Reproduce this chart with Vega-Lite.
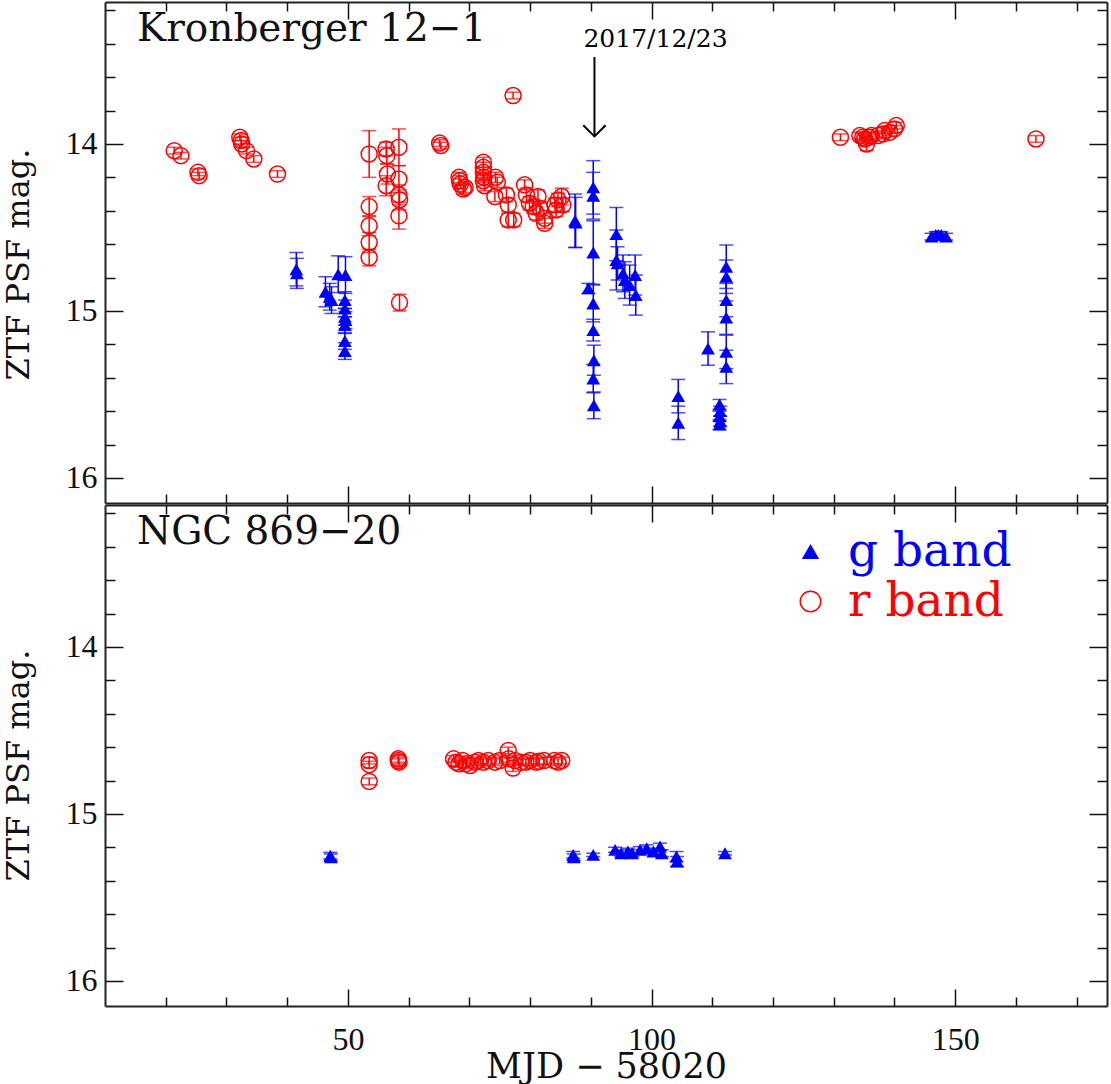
{
  "$schema": "https://vega.github.io/schema/vega-lite/v6.json",
  "padding": {"left": 2, "top": 1, "right": 2, "bottom": 2},
  "background": "white",
  "config": {
    "view": {"stroke": null},
    "axis": {"domain": true, "domainColor": "#222222", "domainWidth": 2, "grid": false, "tickColor": "#111111", "tickWidth": 1.5, "labelFont": "Liberation Serif", "labelFontSize": 32, "labelColor": "#111111", "titleFont": "DejaVu Serif", "titleFontSize": 32, "titleFontWeight": "normal", "titleColor": "#111111", "labelOverlap": false, "labelBound": false, "labelFlush": false},
    "title": {"font": "DejaVu Serif", "fontSize": 39, "fontWeight": "normal", "color": "#111111", "anchor": "start", "frame": "group", "baseline": "alphabetic", "offset": -48, "dx": 32}
  },
  "datasets": {
    "k_r": [
      {"mjd": 21.4, "mag": 14.04, "err": 0.02}, {"mjd": 22.5, "mag": 14.07, "err": 0.02}, {"mjd": 25.3, "mag": 14.17, "err": 0.02}, {"mjd": 25.5, "mag": 14.19, "err": 0.02},
      {"mjd": 32.2, "mag": 13.96, "err": 0.02}, {"mjd": 32.4, "mag": 13.98, "err": 0.02}, {"mjd": 32.5, "mag": 14.0, "err": 0.02}, {"mjd": 33.3, "mag": 14.04, "err": 0.02}, {"mjd": 34.5, "mag": 14.09, "err": 0.02}, {"mjd": 38.4, "mag": 14.18, "err": 0.02},
      {"mjd": 53.5, "mag": 14.06, "err": 0.14}, {"mjd": 53.5, "mag": 14.375, "err": 0.06}, {"mjd": 53.5, "mag": 14.49, "err": 0.06}, {"mjd": 53.5, "mag": 14.59, "err": 0.06}, {"mjd": 53.5, "mag": 14.68, "err": 0.05},
      {"mjd": 56.3, "mag": 14.03, "err": 0.04}, {"mjd": 56.4, "mag": 14.07, "err": 0.05}, {"mjd": 56.5, "mag": 14.18, "err": 0.06}, {"mjd": 56.3, "mag": 14.25, "err": 0.06},
      {"mjd": 58.4, "mag": 14.02, "err": 0.11}, {"mjd": 58.4, "mag": 14.21, "err": 0.08}, {"mjd": 58.4, "mag": 14.305, "err": 0.06}, {"mjd": 58.5, "mag": 14.335, "err": 0.06}, {"mjd": 58.4, "mag": 14.43, "err": 0.08}, {"mjd": 58.5, "mag": 14.95, "err": 0.05},
      {"mjd": 65.1, "mag": 13.995, "err": 0.02}, {"mjd": 65.3, "mag": 14.01, "err": 0.02}, {"mjd": 77.2, "mag": 13.71, "err": 0.02},
      {"mjd": 68.3, "mag": 14.2, "err": 0.03}, {"mjd": 68.4, "mag": 14.22, "err": 0.03}, {"mjd": 68.5, "mag": 14.24, "err": 0.03}, {"mjd": 69.0, "mag": 14.27, "err": 0.03}, {"mjd": 69.3, "mag": 14.26, "err": 0.03},
      {"mjd": 72.3, "mag": 14.11, "err": 0.03}, {"mjd": 72.3, "mag": 14.14, "err": 0.03}, {"mjd": 72.3, "mag": 14.17, "err": 0.03}, {"mjd": 72.4, "mag": 14.2, "err": 0.03}, {"mjd": 72.3, "mag": 14.22, "err": 0.03}, {"mjd": 72.5, "mag": 14.25, "err": 0.03},
      {"mjd": 74.3, "mag": 14.2, "err": 0.03}, {"mjd": 74.6, "mag": 14.23, "err": 0.03}, {"mjd": 74.2, "mag": 14.315, "err": 0.03},
      {"mjd": 76.1, "mag": 14.305, "err": 0.04}, {"mjd": 76.4, "mag": 14.365, "err": 0.04}, {"mjd": 76.4, "mag": 14.455, "err": 0.04}, {"mjd": 77.3, "mag": 14.455, "err": 0.04},
      {"mjd": 79.1, "mag": 14.245, "err": 0.03}, {"mjd": 79.4, "mag": 14.305, "err": 0.04}, {"mjd": 79.9, "mag": 14.355, "err": 0.04}, {"mjd": 80.5, "mag": 14.375, "err": 0.04}, {"mjd": 81.0, "mag": 14.415, "err": 0.04},
      {"mjd": 81.3, "mag": 14.315, "err": 0.04}, {"mjd": 81.6, "mag": 14.385, "err": 0.04}, {"mjd": 82.4, "mag": 14.445, "err": 0.03}, {"mjd": 82.4, "mag": 14.475, "err": 0.03},
      {"mjd": 84.1, "mag": 14.365, "err": 0.04}, {"mjd": 84.6, "mag": 14.335, "err": 0.04}, {"mjd": 85.2, "mag": 14.315, "err": 0.05}, {"mjd": 85.4, "mag": 14.365, "err": 0.04}, {"mjd": 84.3, "mag": 14.395, "err": 0.04},
      {"mjd": 131.1, "mag": 13.96, "err": 0.02}, {"mjd": 134.3, "mag": 13.95, "err": 0.02}, {"mjd": 134.8, "mag": 13.96, "err": 0.02}, {"mjd": 135.1, "mag": 13.97, "err": 0.02}, {"mjd": 135.4, "mag": 14.0, "err": 0.04}, {"mjd": 135.8, "mag": 13.96, "err": 0.02}, {"mjd": 136.2, "mag": 13.95, "err": 0.02}, {"mjd": 137.3, "mag": 13.95, "err": 0.02}, {"mjd": 138.1, "mag": 13.94, "err": 0.02}, {"mjd": 138.4, "mag": 13.92, "err": 0.02}, {"mjd": 139.2, "mag": 13.93, "err": 0.02}, {"mjd": 140.0, "mag": 13.91, "err": 0.02}, {"mjd": 140.3, "mag": 13.89, "err": 0.02},
      {"mjd": 163.3, "mag": 13.97, "err": 0.02}
    ],
    "k_g": [
      {"mjd": 41.5, "mag": 14.75, "err": 0.1}, {"mjd": 41.6, "mag": 14.775, "err": 0.09},
      {"mjd": 46.3, "mag": 14.885, "err": 0.09}, {"mjd": 47.0, "mag": 14.915, "err": 0.08}, {"mjd": 47.3, "mag": 14.935, "err": 0.08},
      {"mjd": 48.4, "mag": 14.78, "err": 0.11}, {"mjd": 49.6, "mag": 14.785, "err": 0.11},
      {"mjd": 49.5, "mag": 14.935, "err": 0.05}, {"mjd": 49.5, "mag": 14.985, "err": 0.05}, {"mjd": 49.5, "mag": 15.035, "err": 0.05}, {"mjd": 49.6, "mag": 15.055, "err": 0.05}, {"mjd": 49.5, "mag": 15.085, "err": 0.05}, {"mjd": 49.5, "mag": 15.18, "err": 0.05}, {"mjd": 49.5, "mag": 15.24, "err": 0.05},
      {"mjd": 87.4, "mag": 14.46, "err": 0.16}, {"mjd": 87.5, "mag": 14.47, "err": 0.15},
      {"mjd": 90.4, "mag": 14.26, "err": 0.16}, {"mjd": 90.4, "mag": 14.31, "err": 0.14}, {"mjd": 90.4, "mag": 14.65, "err": 0.19}, {"mjd": 89.6, "mag": 14.865, "err": 0.03}, {"mjd": 90.4, "mag": 14.955, "err": 0.11}, {"mjd": 90.4, "mag": 15.115, "err": 0.065}, {"mjd": 90.5, "mag": 15.295, "err": 0.09}, {"mjd": 90.4, "mag": 15.405, "err": 0.085}, {"mjd": 90.5, "mag": 15.565, "err": 0.08},
      {"mjd": 94.2, "mag": 14.54, "err": 0.16}, {"mjd": 94.2, "mag": 14.695, "err": 0.18}, {"mjd": 94.4, "mag": 14.715, "err": 0.1},
      {"mjd": 95.3, "mag": 14.775, "err": 0.11}, {"mjd": 95.6, "mag": 14.815, "err": 0.11}, {"mjd": 96.4, "mag": 14.845, "err": 0.12}, {"mjd": 97.3, "mag": 14.785, "err": 0.12}, {"mjd": 97.4, "mag": 14.905, "err": 0.12},
      {"mjd": 104.4, "mag": 15.51, "err": 0.1}, {"mjd": 104.4, "mag": 15.67, "err": 0.1},
      {"mjd": 109.3, "mag": 15.225, "err": 0.1},
      {"mjd": 112.3, "mag": 14.735, "err": 0.13}, {"mjd": 112.3, "mag": 14.795, "err": 0.1}, {"mjd": 112.3, "mag": 14.935, "err": 0.1}, {"mjd": 112.3, "mag": 15.04, "err": 0.1}, {"mjd": 112.3, "mag": 15.245, "err": 0.1}, {"mjd": 112.3, "mag": 15.335, "err": 0.1},
      {"mjd": 111.2, "mag": 15.56, "err": 0.03}, {"mjd": 111.3, "mag": 15.6, "err": 0.03}, {"mjd": 111.2, "mag": 15.63, "err": 0.03}, {"mjd": 111.3, "mag": 15.66, "err": 0.03}, {"mjd": 111.2, "mag": 15.68, "err": 0.03},
      {"mjd": 146.1, "mag": 14.555, "err": 0.02}, {"mjd": 146.8, "mag": 14.545, "err": 0.02}, {"mjd": 147.2, "mag": 14.545, "err": 0.02}, {"mjd": 147.7, "mag": 14.545, "err": 0.02}, {"mjd": 148.5, "mag": 14.555, "err": 0.02}
    ],
    "n_r": [
      {"mjd": 53.5, "mag": 14.68, "err": 0.02}, {"mjd": 53.5, "mag": 14.705, "err": 0.02}, {"mjd": 53.5, "mag": 14.805, "err": 0.02},
      {"mjd": 58.3, "mag": 14.67, "err": 0.02}, {"mjd": 58.3, "mag": 14.68, "err": 0.02}, {"mjd": 58.4, "mag": 14.69, "err": 0.02},
      {"mjd": 67.4, "mag": 14.67, "err": 0.02}, {"mjd": 67.8, "mag": 14.69, "err": 0.02}, {"mjd": 68.3, "mag": 14.7, "err": 0.02}, {"mjd": 68.9, "mag": 14.68, "err": 0.02}, {"mjd": 69.4, "mag": 14.7, "err": 0.02}, {"mjd": 70.1, "mag": 14.71, "err": 0.02}, {"mjd": 70.9, "mag": 14.69, "err": 0.02}, {"mjd": 71.5, "mag": 14.68, "err": 0.02}, {"mjd": 72.3, "mag": 14.69, "err": 0.02}, {"mjd": 73.1, "mag": 14.68, "err": 0.02}, {"mjd": 74.2, "mag": 14.69, "err": 0.02}, {"mjd": 75.0, "mag": 14.68, "err": 0.02}, {"mjd": 76.4, "mag": 14.62, "err": 0.02}, {"mjd": 76.5, "mag": 14.67, "err": 0.02}, {"mjd": 77.2, "mag": 14.725, "err": 0.02}, {"mjd": 77.5, "mag": 14.68, "err": 0.02}, {"mjd": 78.5, "mag": 14.69, "err": 0.02}, {"mjd": 79.3, "mag": 14.69, "err": 0.02}, {"mjd": 80.0, "mag": 14.68, "err": 0.02}, {"mjd": 81.0, "mag": 14.69, "err": 0.02}, {"mjd": 81.5, "mag": 14.685, "err": 0.02}, {"mjd": 82.3, "mag": 14.68, "err": 0.02}, {"mjd": 84.0, "mag": 14.68, "err": 0.02}, {"mjd": 84.6, "mag": 14.69, "err": 0.02}, {"mjd": 85.2, "mag": 14.68, "err": 0.02}
    ],
    "n_g": [
      {"mjd": 47.1, "mag": 15.25, "err": 0.02}, {"mjd": 47.2, "mag": 15.26, "err": 0.02}, {"mjd": 87.1, "mag": 15.245, "err": 0.02}, {"mjd": 87.2, "mag": 15.26, "err": 0.02}, {"mjd": 90.4, "mag": 15.245, "err": 0.01}, {"mjd": 94.0, "mag": 15.215, "err": 0.015}, {"mjd": 95.0, "mag": 15.235, "err": 0.02}, {"mjd": 96.1, "mag": 15.225, "err": 0.02}, {"mjd": 96.8, "mag": 15.235, "err": 0.02}, {"mjd": 98.1, "mag": 15.215, "err": 0.02}, {"mjd": 99.2, "mag": 15.205, "err": 0.02}, {"mjd": 100.3, "mag": 15.225, "err": 0.02}, {"mjd": 101.4, "mag": 15.195, "err": 0.02}, {"mjd": 101.7, "mag": 15.235, "err": 0.02}, {"mjd": 104.1, "mag": 15.255, "err": 0.03}, {"mjd": 104.2, "mag": 15.285, "err": 0.03}, {"mjd": 112.1, "mag": 15.235, "err": 0.01}
    ],
    "note": [{"mjd": 90.6, "top": 13.48, "tip": 13.955, "date": "2017/12/23"}]
  },
  "spacing": 0,
  "resolve": {"scale": {"fill": "independent", "stroke": "independent"}, "legend": {"fill": "independent", "stroke": "independent"}},
  "vconcat": [
    {
      "width": 1002, "height": 501,
      "title": {"text": "Kronberger 12−1"},
      "resolve": {"axis": {"x": "independent", "y": "independent"}},
      "encoding": {
        "x": {"field": "mjd", "type": "quantitative", "scale": {"domain": [10, 175], "nice": false, "zero": false}, "axis": null},
        "y": {"field": "mag", "type": "quantitative", "scale": {"domain": [13.15, 16.15], "reverse": true, "nice": false, "zero": false}, "axis": null}
      },
      "layer": [
        {
          "data": {"name": "note"},
          "mark": {"type": "point", "opacity": 0},
          "encoding": {
            "x": {"field": "mjd", "type": "quantitative", "scale": {"domain": [10, 175], "nice": false, "zero": false},
                  "axis": {"orient": "bottom", "values": [20,30,40,50,60,70,80,90,100,110,120,130,140,150,160,170], "tickSize": {"condition": {"test": "datum.value % 50 == 0", "value": -17}, "value": -9}, "labels": false, "title": null, "minExtent": 0, "maxExtent": 0}},
            "y": {"field": "tip", "type": "quantitative", "scale": {"domain": [13.15, 16.15], "reverse": true, "nice": false, "zero": false},
                  "axis": {"orient": "left", "values": [13.2,13.4,13.6,13.8,14,14.2,14.4,14.6,14.8,15,15.2,15.4,15.6,15.8,16], "tickSize": {"condition": {"test": "abs(datum.value - round(datum.value)) < 0.01", "value": -18}, "value": -10}, "labelFontSize": {"condition": {"test": "abs(datum.value - round(datum.value)) < 0.01", "value": 32}, "value": 0}, "labelExpr": "abs(datum.value - round(datum.value)) < 0.01 ? format(datum.value, 'd') : ''", "labelPadding": 26, "title": "ZTF PSF mag.", "titlePadding": 10, "titleY": 262, "minExtent": 60, "maxExtent": 60}}
          }
        },
        {
          "data": {"name": "note"},
          "mark": {"type": "point", "opacity": 0},
          "encoding": {
            "x": {"field": "mjd", "type": "quantitative", "scale": {"domain": [10, 175], "nice": false, "zero": false},
                  "axis": {"orient": "top", "values": [20,30,40,50,60,70,80,90,100,110,120,130,140,150,160,170], "tickSize": {"condition": {"test": "datum.value % 50 == 0", "value": -17}, "value": -9}, "labels": false, "title": null, "minExtent": 0, "maxExtent": 0}},
            "y": {"field": "tip", "type": "quantitative", "scale": {"domain": [13.15, 16.15], "reverse": true, "nice": false, "zero": false},
                  "axis": {"orient": "right", "values": [13.2,13.4,13.6,13.8,14,14.2,14.4,14.6,14.8,15,15.2,15.4,15.6,15.8,16], "tickSize": {"condition": {"test": "abs(datum.value - round(datum.value)) < 0.01", "value": -18}, "value": -10}, "labels": false, "title": null, "minExtent": 0, "maxExtent": 0}}
          }
        },
        {"data": {"name": "k_r"}, "mark": {"type": "errorbar", "ticks": true, "size": 14, "thickness": 1.5, "color": "#ff0000"}, "encoding": {"yError": {"field": "err"}}},
        {"data": {"name": "k_r"}, "mark": {"type": "point", "shape": "circle", "filled": false, "size": 256, "strokeWidth": 1.5, "opacity": 1},
         "encoding": {"stroke": {"datum": "r band", "type": "nominal", "scale": {"range": ["#ff0000"]}, "legend": null}}},
        {"data": {"name": "k_g"}, "mark": {"type": "errorbar", "ticks": true, "size": 14, "thickness": 1.5, "color": "#0000ff"}, "encoding": {"yError": {"field": "err"}}},
        {"data": {"name": "k_g"}, "mark": {"type": "point", "shape": "triangle-up", "filled": true, "size": 190, "opacity": 1},
         "encoding": {"fill": {"datum": "g band", "type": "nominal", "scale": {"range": ["#0000ff"]}, "legend": null}}},
        {"data": {"name": "note"}, "mark": {"type": "rule", "color": "#000000", "strokeWidth": 2}, "encoding": {"y": {"field": "top", "type": "quantitative", "axis": null}, "y2": {"field": "tip"}}},
        {"data": {"name": "note"}, "mark": {"type": "point", "shape": "M-1,-1L0,0L1,-1", "filled": false, "size": 500, "strokeWidth": 2, "color": "#000000", "opacity": 1}, "encoding": {"y": {"field": "tip", "type": "quantitative", "axis": null}}},
        {"data": {"name": "note"}, "mark": {"type": "text", "align": "left", "baseline": "alphabetic", "dx": -11, "dy": -10, "font": "DejaVu Serif", "fontSize": 25, "color": "#000000"}, "encoding": {"y": {"field": "top", "type": "quantitative", "axis": null}, "text": {"field": "date"}}}
      ]
    },
    {
      "width": 1002, "height": 501,
      "title": {"text": "NGC 869−20"},
      "resolve": {"axis": {"x": "independent", "y": "independent"}},
      "encoding": {
        "x": {"field": "mjd", "type": "quantitative", "scale": {"domain": [10, 175], "nice": false, "zero": false}, "axis": null},
        "y": {"field": "mag", "type": "quantitative", "scale": {"domain": [13.15, 16.15], "reverse": true, "nice": false, "zero": false}, "axis": null}
      },
      "layer": [
        {
          "data": {"name": "note"},
          "mark": {"type": "point", "opacity": 0},
          "encoding": {
            "x": {"field": "mjd", "type": "quantitative", "scale": {"domain": [10, 175], "nice": false, "zero": false},
                  "axis": {"orient": "bottom", "values": [20,30,40,50,60,70,80,90,100,110,120,130,140,150,160,170], "tickSize": {"condition": {"test": "datum.value % 50 == 0", "value": -17}, "value": -9}, "labelFontSize": {"condition": {"test": "datum.value % 50 == 0", "value": 32}, "value": 0}, "labelExpr": "datum.value % 50 == 0 ? datum.label : ''", "labelPadding": 35, "title": "MJD − 58020", "titleFontSize": 35, "titlePadding": -6}},
            "y": {"field": "tip", "type": "quantitative", "scale": {"domain": [13.15, 16.15], "reverse": true, "nice": false, "zero": false},
                  "axis": {"orient": "left", "values": [13.2,13.4,13.6,13.8,14,14.2,14.4,14.6,14.8,15,15.2,15.4,15.6,15.8,16], "tickSize": {"condition": {"test": "abs(datum.value - round(datum.value)) < 0.01", "value": -18}, "value": -10}, "labelFontSize": {"condition": {"test": "abs(datum.value - round(datum.value)) < 0.01", "value": 32}, "value": 0}, "labelExpr": "abs(datum.value - round(datum.value)) < 0.01 ? format(datum.value, 'd') : ''", "labelPadding": 26, "title": "ZTF PSF mag.", "titlePadding": 10, "titleY": 260, "minExtent": 60, "maxExtent": 60}}
          }
        },
        {
          "data": {"name": "note"},
          "mark": {"type": "point", "opacity": 0},
          "encoding": {
            "x": {"field": "mjd", "type": "quantitative", "scale": {"domain": [10, 175], "nice": false, "zero": false},
                  "axis": {"orient": "top", "values": [20,30,40,50,60,70,80,90,100,110,120,130,140,150,160,170], "tickSize": {"condition": {"test": "datum.value % 50 == 0", "value": -17}, "value": -9}, "labels": false, "title": null, "minExtent": 0, "maxExtent": 0}},
            "y": {"field": "tip", "type": "quantitative", "scale": {"domain": [13.15, 16.15], "reverse": true, "nice": false, "zero": false},
                  "axis": {"orient": "right", "values": [13.2,13.4,13.6,13.8,14,14.2,14.4,14.6,14.8,15,15.2,15.4,15.6,15.8,16], "tickSize": {"condition": {"test": "abs(datum.value - round(datum.value)) < 0.01", "value": -18}, "value": -10}, "labels": false, "title": null, "minExtent": 0, "maxExtent": 0}}
          }
        },
        {"data": {"name": "n_r"}, "mark": {"type": "errorbar", "ticks": true, "size": 14, "thickness": 1.5, "color": "#ff0000"}, "encoding": {"yError": {"field": "err"}}},
        {"data": {"name": "n_r"}, "mark": {"type": "point", "shape": "circle", "filled": false, "size": 256, "strokeWidth": 1.5, "opacity": 1},
         "encoding": {"stroke": {"datum": "r band", "type": "nominal", "scale": {"range": ["#ff0000"]},
           "legend": {"orient": "none", "legendX": 682, "legendY": 73, "title": null, "symbolType": "circle", "symbolSize": 420, "symbolStrokeWidth": 1.5, "symbolFillColor": "transparent", "labelColor": "#ff0000", "labelFont": "DejaVu Serif", "labelFontSize": 47, "labelOffset": 14, "labelLimit": 400}}}},
        {"data": {"name": "n_g"}, "mark": {"type": "errorbar", "ticks": true, "size": 14, "thickness": 1.5, "color": "#0000ff"}, "encoding": {"yError": {"field": "err"}}},
        {"data": {"name": "n_g"}, "mark": {"type": "point", "shape": "triangle-up", "filled": true, "size": 190, "opacity": 1},
         "encoding": {"fill": {"datum": "g band", "type": "nominal", "scale": {"range": ["#0000ff"]},
           "legend": {"orient": "none", "legendX": 682, "legendY": 23, "title": null, "symbolType": "triangle-up", "symbolSize": 300, "symbolStrokeWidth": 0, "labelColor": "#0000ff", "labelFont": "DejaVu Serif", "labelFontSize": 47, "labelOffset": 14, "labelLimit": 400}}}}
      ]
    }
  ]
}
